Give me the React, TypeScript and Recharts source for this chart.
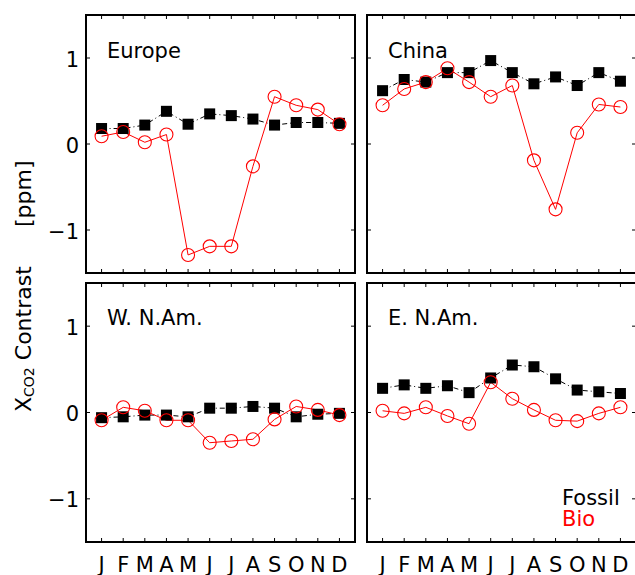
import React from 'react';
import { LineChart, Line, XAxis, YAxis, ReferenceArea } from 'recharts';

const FONT = '"DejaVu Sans", "Liberation Sans", sans-serif';

const months = ['J', 'F', 'M', 'A', 'M', 'J', 'J', 'A', 'S', 'O', 'N', 'D'];
const monthPos = [1, 2, 3, 4, 5, 6, 7, 8, 9, 10, 11, 12];
const yTicks = [-1, 0, 1];

const europeFossil = [0.18, 0.18, 0.22, 0.38, 0.23, 0.35, 0.33, 0.29, 0.22, 0.25, 0.25, 0.24];
const europeBio = [0.09, 0.14, 0.02, 0.11, -1.29, -1.19, -1.19, -0.26, 0.55, 0.45, 0.4, 0.23];
const chinaFossil = [0.62, 0.75, 0.72, 0.83, 0.83, 0.97, 0.83, 0.7, 0.78, 0.68, 0.83, 0.73];
const chinaBio = [0.45, 0.64, 0.72, 0.88, 0.72, 0.55, 0.68, -0.19, -0.76, 0.13, 0.46, 0.43];
const wnamFossil = [-0.06, -0.05, -0.03, -0.03, -0.05, 0.05, 0.05, 0.07, 0.05, -0.05, -0.02, -0.01];
const wnamBio = [-0.09, 0.06, 0.02, -0.09, -0.09, -0.35, -0.33, -0.31, -0.08, 0.07, 0.03, -0.03];
const enamFossil = [0.28, 0.32, 0.28, 0.31, 0.23, 0.4, 0.55, 0.53, 0.39, 0.26, 0.24, 0.22];
const enamBio = [0.02, -0.01, 0.06, -0.04, -0.13, 0.35, 0.16, 0.03, -0.09, -0.1, -0.01, 0.06];

const XMIN = 0.28;
const XMAX = 12.72;
const YMIN = -1.5;
const YMAX = 1.5;

const makeRows = (f: number[], b: number[]) =>
  monthPos.map((m, i) => ({ x: m, fossil: f[i], bio: b[i] }));

const SquareDot = (p: any) => {
  const { cx, cy, index } = p;
  if (cx == null || cy == null) return <g key={`s${index}`} />;
  return <rect key={`s${index}`} x={cx - 5.5} y={cy - 5.5} width={11} height={11} fill="#000" />;
};

const CircleDot = (p: any) => {
  const { cx, cy, index } = p;
  if (cx == null || cy == null) return <g key={`c${index}`} />;
  return <circle key={`c${index}`} cx={cx} cy={cy} r={6.5} fill="none" stroke="#ff0000" strokeWidth={1.1} />;
};

type PanelProps = {
  rows: any[];
  left: number;
  top: number;
  width: number;
  height: number;
  margin: { top: number; right: number; bottom: number; left: number };
  yAxisWidth: number;
  xAxisHeight: number;
  yLabels: boolean;
  xLabels: boolean;
};

function Panel({ rows, left, top, width, height, margin, yAxisWidth, xAxisHeight, yLabels, xLabels }: PanelProps) {
  const plotW = width - margin.left - margin.right - yAxisWidth;
  const plotH = height - margin.top - margin.bottom - xAxisHeight;

  const XTick = (p: any) => {
    const { x, y, payload } = p;
    const idx = monthPos.indexOf(payload.value);
    return (
      <g>
        <line x1={x} x2={x} y1={y} y2={y - 4} stroke="#000" strokeWidth={1} />
        <line x1={x} x2={x} y1={y - plotH} y2={y - plotH + 4} stroke="#000" strokeWidth={1} />
        {xLabels && (
          <text x={x} y={y + 30} textAnchor="middle" fontSize={21} fontFamily={FONT} fill="#000">
            {months[idx]}
          </text>
        )}
      </g>
    );
  };

  const YTick = (p: any) => {
    const { x, y, payload } = p;
    const v = payload.value;
    return (
      <g>
        <line x1={x} x2={x + 4} y1={y} y2={y} stroke="#000" strokeWidth={1} />
        <line x1={x + plotW - 4} x2={x + plotW} y1={y} y2={y} stroke="#000" strokeWidth={1} />
        {yLabels && (
          <text x={x - 7} y={y + 8.5} textAnchor="end" fontSize={21} fontFamily={FONT} fill="#000">
            {v < 0 ? `\u2212${Math.abs(v)}` : String(v)}
          </text>
        )}
      </g>
    );
  };

  return (
    <div style={{ position: 'absolute', left, top, width, height }}>
      <LineChart width={width} height={height} data={rows} margin={margin}>
        <XAxis
          dataKey="x"
          type="number"
          domain={[XMIN, XMAX]}
          ticks={monthPos}
          interval={0}
          allowDataOverflow
          height={xAxisHeight}
          axisLine={false}
          tickLine={false}
          tickSize={0}
          tickMargin={0}
          tick={XTick}
        />
        <YAxis
          type="number"
          domain={[YMIN, YMAX]}
          ticks={yTicks}
          interval={0}
          allowDataOverflow
          width={yAxisWidth}
          axisLine={false}
          tickLine={false}
          tickSize={0}
          tickMargin={0}
          tick={YTick}
        />
        <ReferenceArea
          x1={XMIN}
          x2={XMAX}
          y1={YMIN}
          y2={YMAX}
          fill="none"
          fillOpacity={0}
          stroke="#000"
          strokeWidth={2}
          ifOverflow="visible"
        />
        <Line
          dataKey="fossil"
          stroke="#000"
          strokeWidth={1}
          strokeDasharray="5 3 1 3"
          dot={SquareDot}
          activeDot={false}
          isAnimationActive={false}
        />
        <Line
          dataKey="bio"
          stroke="#ff0000"
          strokeWidth={1}
          dot={CircleDot}
          activeDot={false}
          isAnimationActive={false}
        />
      </LineChart>
    </div>
  );
}

export default function App() {
  const txt = { fontFamily: FONT, fontSize: 21, fill: '#000' } as const;
  return (
    <div
      style={{
        position: 'absolute',
        left: 0,
        top: 0,
        width: 635,
        height: 575,
        overflow: 'hidden',
        background: '#fff',
        fontFamily: FONT,
      }}
    >
      <Panel
        rows={makeRows(europeFossil, europeBio)}
        left={0}
        top={0}
        width={360}
        height={280}
        margin={{ top: 15, right: 5, bottom: 0, left: 46 }}
        yAxisWidth={40}
        xAxisHeight={7}
        yLabels
        xLabels={false}
      />
      <Panel
        rows={makeRows(chinaFossil, chinaBio)}
        left={362}
        top={0}
        width={280}
        height={280}
        margin={{ top: 15, right: 6, bottom: 0, left: 0 }}
        yAxisWidth={5}
        xAxisHeight={7}
        yLabels={false}
        xLabels={false}
      />
      <Panel
        rows={makeRows(wnamFossil, wnamBio)}
        left={0}
        top={275}
        width={360}
        height={300}
        margin={{ top: 8, right: 5, bottom: 0, left: 46 }}
        yAxisWidth={40}
        xAxisHeight={33}
        yLabels
        xLabels
      />
      <Panel
        rows={makeRows(enamFossil, enamBio)}
        left={362}
        top={275}
        width={280}
        height={300}
        margin={{ top: 8, right: 6, bottom: 0, left: 0 }}
        yAxisWidth={5}
        xAxisHeight={33}
        yLabels={false}
        xLabels
      />
      <svg
        width={635}
        height={575}
        style={{ position: 'absolute', left: 0, top: 0, pointerEvents: 'none' }}
      >
        <text x={107} y={58} {...txt}>Europe</text>
        <text x={388} y={58} {...txt}>China</text>
        <text x={107} y={325} {...txt}>W. N.Am.</text>
        <text x={388} y={325} {...txt}>E. N.Am.</text>
        <text x={562} y={505} {...txt}>Fossil</text>
        <text x={562} y={526} {...txt} fill="#ff0000">Bio</text>
        <text transform="translate(31,412) rotate(-90)" fontFamily={FONT} fontSize={22} fill="#000">
          X
          <tspan fontSize={14} dy={3}>CO2</tspan>
          <tspan dy={-3}> Contrast</tspan>
        </text>
        <text transform="translate(31,227) rotate(-90)" fontFamily={FONT} fontSize={22} fill="#000">
          [ppm]
        </text>
      </svg>
    </div>
  );
}
